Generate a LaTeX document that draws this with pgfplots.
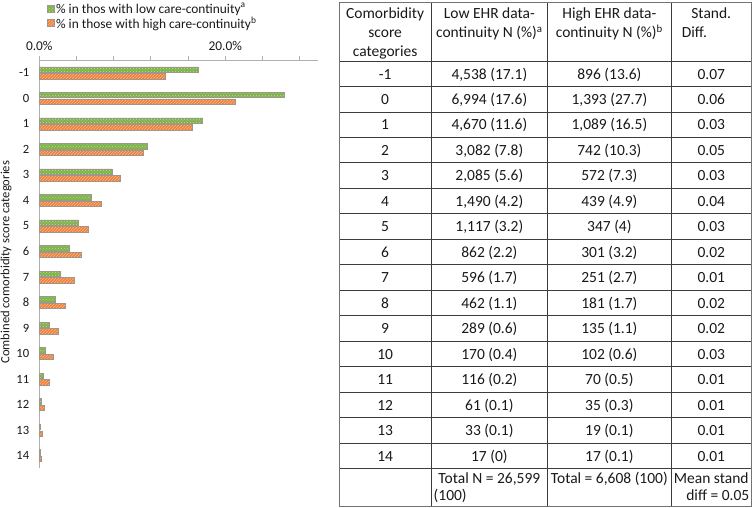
\documentclass[border=0pt]{standalone}
\usepackage{fontspec}
\setmainfont{Carlito}
\usepackage{pgfplots}
\usepackage{pgfplotstable}
\pgfplotsset{compat=1.18}
\usetikzlibrary{patterns}
\definecolor{grn}{RGB}{125,180,75}
\definecolor{grnl}{RGB}{185,222,145}
\definecolor{org}{RGB}{238,128,60}
\definecolor{orgl}{RGB}{250,185,140}
\definecolor{edge}{RGB}{160,150,140}
\definecolor{axgray}{RGB}{175,175,175}
\definecolor{tline}{RGB}{60,60,60}
\definecolor{txt}{RGB}{25,25,25}
\pgfplotsset{sqleg/.style={legend image code/.code={\draw[##1] (0pt,-3.5pt) rectangle (7pt,3.5pt);}}}

\pgfplotstableread{
cat low high
-1 17.06 13.56
0 26.29 21.08
1 17.56 16.48
2 11.59 11.23
3 7.84 8.66
4 5.60 6.64
5 4.20 5.25
6 3.24 4.56
7 2.24 3.80
8 1.74 2.74
9 1.09 2.04
10 0.64 1.54
11 0.44 1.06
12 0.23 0.53
13 0.12 0.29
14 0.06 0.26
}\datatab

\newcommand\tfont{\fontsize{15.5}{19}\selectfont}
\newcommand\trow[5]{%
  \pgfmathsetmacro\yb{61+25.47*(#1+0.5)+5.3}%
  \node[anchor=base,inner sep=0pt] at (385.15,\yb) {#2};
  \node[anchor=base,inner sep=0pt] at (489.35,\yb) {#3};
  \node[anchor=base,inner sep=0pt] at (609.35,\yb) {#4};
  \node[anchor=base,inner sep=0pt] at (711.25,\yb) {#5};
}

\begin{document}
\begin{tikzpicture}
\useasboundingbox (0pt,0pt) rectangle (753pt,508pt);
\begin{axis}[
  at={(39.3pt,39.5pt)}, anchor=south west,
  width=279pt, height=408.5pt, scale only axis,
  xmin=0, xmax=30, ymin=-14.5, ymax=1.5,
  xbar, bar width=5.4pt,
  axis x line*=top, axis y line*=left,
  axis line style={axgray, -, line width=0.8pt},
  xtick={0,4,...,28}, xticklabels={0.0\%,,,,,20.0\%,,},
  xtick style={axgray, line width=0.8pt}, xtick align=outside, major tick length=4pt,
  xticklabel style={font=\fontsize{13.4}{15}\selectfont, text=txt, yshift=1.5pt},
  ytick={-14,-13,...,1},
  yticklabels={14,13,12,11,10,9,8,7,6,5,4,3,2,1,0,-1},
  ytick style={draw=none},
  yticklabel style={font=\fontsize{12.6}{15}\selectfont, text=txt, anchor=east, xshift=-2.5pt},
  ylabel={Combined comorbidity score categories},
  ylabel style={at={(axis description cs:-0.119,0.505)}, anchor=center, font=\fontsize{12.6}{14}\selectfont, text=txt},
  legend style={at={(axis description cs:0.022,1.143)}, anchor=north west, draw=none, fill=none,
    font=\fontsize{13.4}{15}\selectfont, text=txt, row sep=1pt, inner sep=1pt,
    nodes={inner xsep=2pt, inner ysep=0.5pt}},
  legend cell align=left,
  clip=false,
]
\addplot[draw=edge, fill=grn, line width=0.5pt, bar shift=3.3pt,
  postaction={pattern=crosshatch dots, pattern color=grnl}, sqleg]
  table[x=low, y expr=-\thisrow{cat}] {\datatab};
\addlegendentry{\% in thos with low care-continuity\textsuperscript{a}}
\addplot[draw=edge, fill=org, line width=0.5pt, bar shift=-3.3pt,
  postaction={pattern=north east lines, pattern color=orgl}, sqleg]
  table[x=high, y expr=-\thisrow{cat}] {\datatab};
\addlegendentry{\% in those with high care-continuity\textsuperscript{b}}
\end{axis}

\begin{scope}[x=1pt, y=-1pt, shift={(0pt,508pt)}, font=\tfont, text=txt]
  \foreach \k in {0,...,16} {
    \draw[tline, line width=0.8pt] (339.3,{61+25.47*\k}) -- (751.5,{61+25.47*\k});
  }
  \draw[tline, line width=0.8pt] (431,3) -- (431,506.7);
  \draw[tline, line width=0.8pt] (547.7,3) -- (547.7,506.7);
  \draw[tline, line width=0.8pt] (671,3) -- (671,506.7);
  \draw[black!55, line width=1pt] (339.3,3) rectangle (751.5,506.7);
  \node[anchor=base,inner sep=0pt] at (385.15,18.5) {Comorbidity};
  \node[anchor=base,inner sep=0pt] at (385.15,37.5) {score};
  \node[anchor=base,inner sep=0pt] at (385.15,56.5) {categories};
  \node[anchor=base,inner sep=0pt] at (489.35,18.5) {Low EHR data-};
  \node[anchor=base,inner sep=0pt] at (489.35,37.5) {continuity N (\%)\textsuperscript{a}};
  \node[anchor=base,inner sep=0pt] at (609.35,18.5) {High EHR data-};
  \node[anchor=base,inner sep=0pt] at (609.35,37.5) {continuity N (\%)\textsuperscript{b}};
  \node[anchor=base,inner sep=0pt] at (711.25,18.5) {Stand.};
  \node[anchor=base west,inner sep=0pt] at (681.7,37.5) {Diff.};
  \trow{0}{-1}{4,538 (17.1)}{896 (13.6)}{0.07}
  \trow{1}{0}{6,994 (17.6)}{1,393 (27.7)}{0.06}
  \trow{2}{1}{4,670 (11.6)}{1,089 (16.5)}{0.03}
  \trow{3}{2}{3,082 (7.8)}{742 (10.3)}{0.05}
  \trow{4}{3}{2,085 (5.6)}{572 (7.3)}{0.03}
  \trow{5}{4}{1,490 (4.2)}{439 (4.9)}{0.04}
  \trow{6}{5}{1,117 (3.2)}{347 (4)}{0.03}
  \trow{7}{6}{862 (2.2)}{301 (3.2)}{0.02}
  \trow{8}{7}{596 (1.7)}{251 (2.7)}{0.01}
  \trow{9}{8}{462 (1.1)}{181 (1.7)}{0.02}
  \trow{10}{9}{289 (0.6)}{135 (1.1)}{0.02}
  \trow{11}{10}{170 (0.4)}{102 (0.6)}{0.03}
  \trow{12}{11}{116 (0.2)}{70 (0.5)}{0.01}
  \trow{13}{12}{61 (0.1)}{35 (0.3)}{0.01}
  \trow{14}{13}{33 (0.1)}{19 (0.1)}{0.01}
  \trow{15}{14}{17 (0)}{17 (0.1)}{0.01}
  \node[anchor=base,inner sep=0pt] at (489.35,483.5) {Total N = 26,599};
  \node[anchor=base west,inner sep=0pt] at (433.5,500.5) {(100)};
  \node[anchor=base,inner sep=0pt] at (609.35,483.5) {Total = 6,608 (100)};
  \node[anchor=base,inner sep=0pt] at (711.25,483.5) {Mean stand};
  \node[anchor=base east,inner sep=0pt] at (749.5,500.5) {diff = 0.05};
\end{scope}
\end{tikzpicture}
\end{document}
